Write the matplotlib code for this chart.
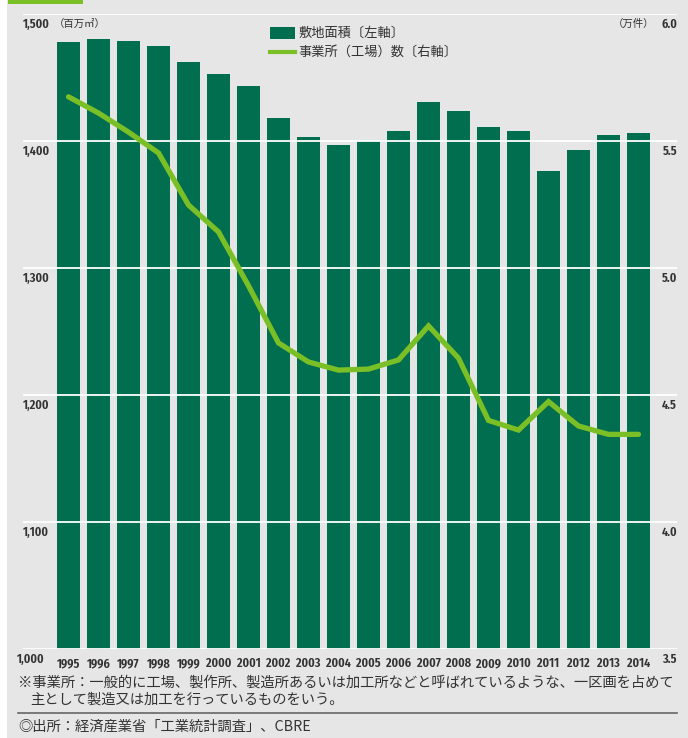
import matplotlib
matplotlib.use("Agg")
import matplotlib.pyplot as plt
from matplotlib.patches import Rectangle
from matplotlib.lines import Line2D
from matplotlib.transforms import blended_transform_factory

# データ
years = list(range(1995, 2015))
area = [1478, 1480, 1479, 1475, 1462, 1453, 1443, 1418, 1403, 1397,
        1400, 1408, 1431, 1424, 1411, 1408, 1376, 1393, 1405, 1406]
counts = [5.674, 5.61, 5.535, 5.453, 5.248, 5.142, 4.93, 4.705, 4.630, 4.598,
          4.602, 4.638, 4.772, 4.645, 4.40, 4.362, 4.474, 4.378, 4.345, 4.345]
left_ticks = [1000, 1100, 1200, 1300, 1400, 1500]
left_labels = ["1,000", "1,100", "1,200", "1,300", "1,400", "1,500"]
right_ticks = [3.5, 4.0, 4.5, 5.0, 5.5, 6.0]
legend_labels = ["敷地面積〔左軸〕", "事業所（工場）数〔右軸〕"]
note1 = "※事業所：一般的に工場、製作所、製造所あるいは加工所などと呼ばれているような、一区画を占めて"
note2 = "主として製造又は加工を行っているものをいう。"
source = "◎出所：経済産業省「工業統計調査」、CBRE"

bar_color = "#006e4f"
line_color = "#7abf26"
bg = "#e6e6e6"
txt = "#333333"
num_font = ["Fira Sans Extra Condensed", "DejaVu Sans"]
jp_font = ["Noto Sans CJK JP", "DejaVu Sans"]

W, H = 688, 738
fig = plt.figure(figsize=(W / 100, H / 100), dpi=100)
fig.patch.set_facecolor("white")

# 背景
fig.patches.append(Rectangle((7 / W, 0), 1 - 7 / W, 1, transform=fig.transFigure,
                             facecolor=bg, edgecolor="none", zorder=-2))
fig.patches.append(Rectangle((8 / W, 1 - 4 / H), 75 / W, 4 / H, transform=fig.transFigure,
                             facecolor=line_color, edgecolor="none", zorder=-1))

ax = fig.add_axes([23 / W, (H - 649) / H, 654 / W, 635 / H])
ax.set_facecolor("none")
for s in ax.spines.values():
    s.set_visible(False)
ax.set_xticks([])
ax.set_yticks([])

x = list(range(len(years)))
ax.bar(x, [a - 1000 for a in area], bottom=1000, width=0.77, color=bar_color, zorder=2)
ax.set_ylim(1000, 1500)
ax.set_xlim(-(68.5 - 23) / 30, (677 - 68.5) / 30)

for t in left_ticks:
    ax.axhline(t, color="white", lw=1.3, zorder=3)

ax2 = ax.twinx()
ax2.set_ylim(3.5, 6.0)
for s in ax2.spines.values():
    s.set_visible(False)
ax2.set_yticks([])
ax2.plot(x, counts, color=line_color, lw=3.8, solid_capstyle="round",
         solid_joinstyle="miter", zorder=4)

# 目盛りラベル
tl = blended_transform_factory(ax.transAxes, ax.transData)
for t, lab in zip(left_ticks, left_labels):
    xpos = -6 / 654 if t == 1000 else 0.0
    ax.text(xpos, t - 3.5, lab, transform=tl, ha="left", va="top",
            fontsize=9.5, family=num_font, color=txt, fontweight="semibold", clip_on=False)
tr = blended_transform_factory(ax2.transAxes, ax2.transData)
for t in right_ticks:
    ax2.text(1.0, t - 0.018, f"{t:.1f}", transform=tr, ha="right", va="top",
             fontsize=9.5, family=num_font, color=txt, fontweight="semibold", clip_on=False)

ax.text(31 / 654, 1500 - 3.5, "（百万㎡）", transform=tl, ha="left", va="top",
        fontsize=7.5, family=jp_font, color=txt)
ax2.text(1 - 23 / 654, 6.0 - 0.018, "（万件）", transform=tr, ha="right", va="top",
         fontsize=7.5, family=jp_font, color=txt)

for xi, y in zip(x, years):
    ax.text(xi, 993.5, str(y), ha="center", va="top", fontsize=9.5,
            family=num_font, color=txt, fontweight="semibold", clip_on=False)

# 凡例
fig.patches.append(Rectangle((270 / W, 1 - 39 / H), 25 / W, 12 / H, transform=fig.transFigure,
                             facecolor=bar_color, edgecolor="none", zorder=5))
fig.lines.append(Line2D([270 / W, 295 / W], [1 - 52 / H, 1 - 52 / H], transform=fig.transFigure,
                        color=line_color, lw=3, zorder=5))
fig.text(298 / W, 1 - 33 / H, legend_labels[0], ha="left", va="center",
         fontsize=9.5, family=jp_font, color=txt)
fig.text(298 / W, 1 - 52 / H, legend_labels[1], ha="left", va="center",
         fontsize=9.5, family=jp_font, color=txt)

# 注記
fig.text(18 / W, 1 - 683 / H, note1, ha="left", va="center",
         fontsize=10.3, family=jp_font, color=txt)
fig.text(30 / W, 1 - 700 / H, note2, ha="left", va="center",
         fontsize=10.3, family=jp_font, color=txt)
fig.lines.append(Line2D([18 / W, 677 / W], [1 - 713 / H, 1 - 713 / H], transform=fig.transFigure,
                        color="#666666", lw=1.2))
fig.text(18 / W, 1 - 727 / H, source, ha="left", va="center",
         fontsize=10.3, family=jp_font, color=txt)

fig.savefig("out.png", dpi=100)
